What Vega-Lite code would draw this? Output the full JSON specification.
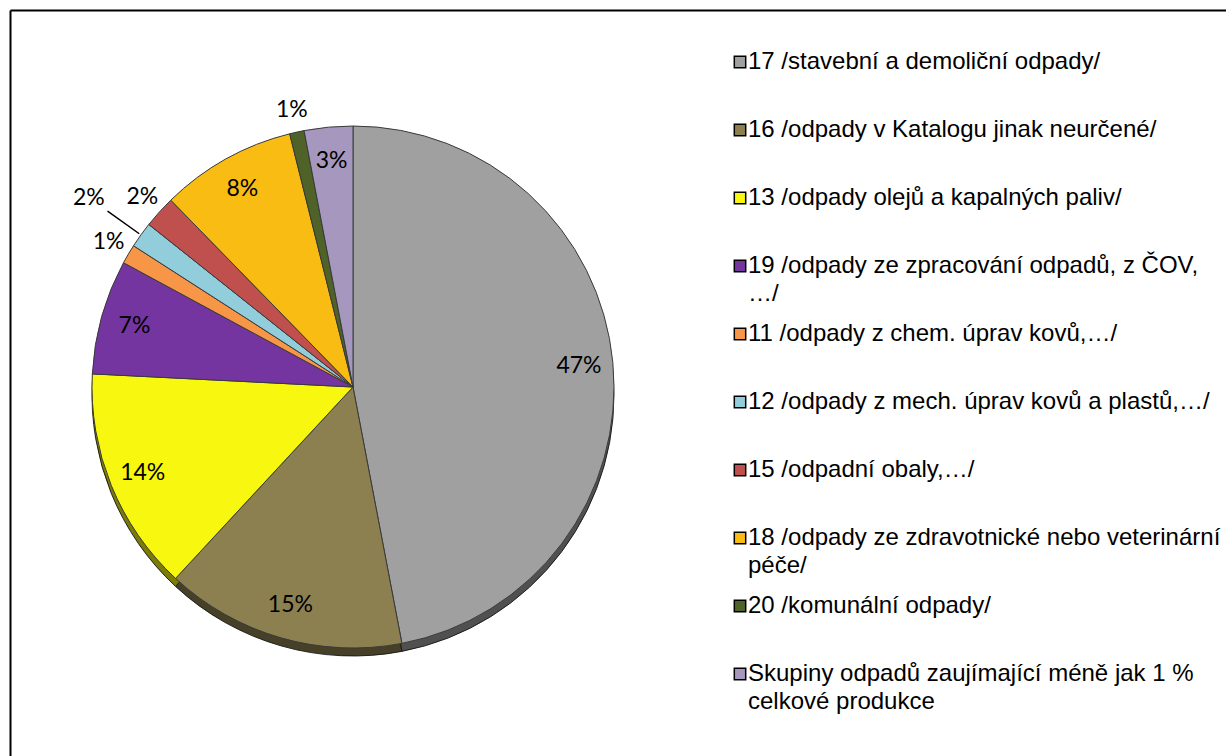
{
  "$schema": "https://vega.github.io/schema/vega-lite/v6.json",
  "width": 1216,
  "height": 746,
  "autosize": {"type": "none"},
  "padding": {"left": 10, "top": 10, "right": 0, "bottom": 0},
  "background": "white",
  "config": {"view": {"stroke": null}},
  "data": {
    "values": [
      {"i": 1, "name": "17 /stavební a demoliční odpady/", "pct": 0.470},
      {"i": 2, "name": "16 /odpady v Katalogu jinak neurčené/", "pct": 0.149},
      {"i": 3, "name": "13 /odpady olejů a kapalných paliv/", "pct": 0.139},
      {"i": 4, "name": "19 /odpady ze zpracování odpadů, z ČOV, …/", "pct": 0.071},
      {"i": 5, "name": "11 /odpady z chem. úprav kovů,…/", "pct": 0.012},
      {"i": 6, "name": "12 /odpady z mech. úprav kovů a plastů,…/", "pct": 0.016},
      {"i": 7, "name": "15 /odpadní obaly,…/", "pct": 0.020},
      {"i": 8, "name": "18 /odpady ze zdravotnické nebo veterinární péče/", "pct": 0.084},
      {"i": 9, "name": "20 /komunální odpady/", "pct": 0.009},
      {"i": 10, "name": "Skupiny odpadů zaujímající méně jak 1 % celkové produkce", "pct": 0.030}
    ]
  },
  "layer": [
    {
      "mark": {"type": "point", "opacity": 0},
      "encoding": {
        "x": {"field": "pct", "type": "quantitative", "axis": {"orient": "top", "domainColor": "black", "domainWidth": 2, "ticks": false, "labels": false, "grid": false, "title": null}},
        "y": {"field": "i", "type": "quantitative", "axis": {"orient": "left", "domainColor": "black", "domainWidth": 2, "ticks": false, "labels": false, "grid": false, "title": null}}
      }
    },
    {
      "mark": {"type": "arc", "x": 343, "y": 377, "outerRadius": 261, "yOffset": 8, "stroke": "#333333", "strokeWidth": 1},
      "encoding": {
        "theta": {"field": "pct", "type": "quantitative", "stack": true},
        "order": {"field": "i", "type": "quantitative"},
        "color": {
          "field": "name",
          "type": "nominal",
          "sort": null,
          "scale": {
            "domain": [
              "17 /stavební a demoliční odpady/",
              "16 /odpady v Katalogu jinak neurčené/",
              "13 /odpady olejů a kapalných paliv/",
              "19 /odpady ze zpracování odpadů, z ČOV, …/",
              "11 /odpady z chem. úprav kovů,…/",
              "12 /odpady z mech. úprav kovů a plastů,…/",
              "15 /odpadní obaly,…/",
              "18 /odpady ze zdravotnické nebo veterinární péče/",
              "20 /komunální odpady/",
              "Skupiny odpadů zaujímající méně jak 1 % celkové produkce"
            ],
            "range": ["#a0a0a0", "#8c8050", "#f7f70f", "#7535a0", "#f79646", "#92cddc", "#c0504d", "#f8bc12", "#4f6228", "#a597bd"]
          },
          "legend": {
            "orient": "none",
            "legendX": 718,
            "legendY": 40,
            "title": null,
            "symbolType": "square",
            "symbolSize": 130,
            "symbolStrokeColor": "black",
            "symbolStrokeWidth": 1.5,
            "labelFont": "Liberation Sans",
            "labelFontSize": 24,
            "labelColor": "black",
            "labelLimit": 700,
            "labelOffset": -4,
            "clipHeight": 24,
            "rowPadding": 16,
            "labelExpr": "datum.label == '19 /odpady ze zpracování odpadů, z ČOV, …/' ? ['19 /odpady ze zpracování odpadů, z ČOV,', '…/'] : datum.label == '18 /odpady ze zdravotnické nebo veterinární péče/' ? ['18 /odpady ze zdravotnické nebo veterinární', 'péče/'] : datum.label == 'Skupiny odpadů zaujímající méně jak 1 % celkové produkce' ? ['Skupiny odpadů zaujímající méně jak 1 %', 'celkové produkce'] : [datum.label, '']",
            "encode": {"labels": {"update": {"lineHeight": {"value": 28}}}}
          }
        }
      }
    },
    {
      "mark": {"type": "arc", "x": 343, "y": 377, "outerRadius": 261, "yOffset": 8, "opacity": 0.5, "strokeWidth": 0, "color": "black"},
      "encoding": {
        "theta": {"field": "pct", "type": "quantitative", "stack": true},
        "order": {"field": "i", "type": "quantitative"}
      }
    },
    {
      "mark": {"type": "arc", "x": 343, "y": 377, "outerRadius": 261, "stroke": "#3a3a3a", "strokeWidth": 1},
      "encoding": {
        "theta": {"field": "pct", "type": "quantitative", "stack": true},
        "order": {"field": "i", "type": "quantitative"},
        "color": {"field": "name", "type": "nominal", "sort": null}
      }
    },
    {
      "mark": {"type": "arc", "x": 343, "y": 377, "innerRadius": 263, "outerRadius": 302, "padAngle": 0.2, "fill": null, "fillOpacity": 0, "stroke": "black", "strokeWidth": 1.5},
      "encoding": {
        "theta": {"field": "pct", "type": "quantitative", "stack": true},
        "order": {"field": "i", "type": "quantitative"},
        "strokeOpacity": {"condition": {"test": "datum.i == 6", "value": 1}, "value": 0}
      }
    },
    {
      "mark": {"type": "text", "x": 343, "y": 377, "radius": 227, "font": "Lato", "fontSize": 23, "color": "black"},
      "encoding": {
        "theta": {"field": "pct", "type": "quantitative", "stack": true},
        "order": {"field": "i", "type": "quantitative"},
        "text": {"condition": {"test": "datum.pct >= 0.025", "field": "pct", "type": "quantitative", "format": ".0%"}, "value": ""}
      }
    },
    {
      "mark": {"type": "text", "x": 343, "y": 377, "radius": 284, "font": "Lato", "fontSize": 23, "color": "black"},
      "encoding": {
        "theta": {"field": "pct", "type": "quantitative", "stack": true},
        "order": {"field": "i", "type": "quantitative"},
        "text": {"condition": {"test": "datum.pct < 0.025 && datum.i != 6", "field": "pct", "type": "quantitative", "format": ".0%"}, "value": ""}
      }
    },
    {
      "mark": {"type": "text", "x": 343, "y": 377, "radius": 325, "font": "Lato", "fontSize": 23, "color": "black"},
      "encoding": {
        "theta": {"field": "pct", "type": "quantitative", "stack": true},
        "order": {"field": "i", "type": "quantitative"},
        "text": {"condition": {"test": "datum.i == 6", "field": "pct", "type": "quantitative", "format": ".0%"}, "value": ""}
      }
    }
  ]
}
